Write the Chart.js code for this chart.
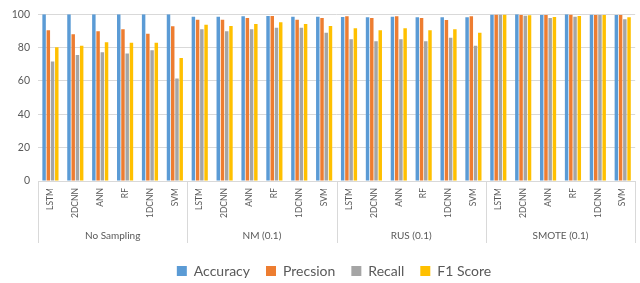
<!DOCTYPE html>
<html><head><meta charset="utf-8">
<script src="https://cdn.jsdelivr.net/npm/chart.js@4.4.1/dist/chart.umd.min.js"></script>
<style>html,body{margin:0;padding:0;background:#fff}#wrap{width:640px;height:283px}</style>
</head><body><div id="wrap"><canvas id="c" width="640" height="283"></canvas></div>
<script>
const models = ['LSTM','2DCNN','ANN','RF','1DCNN','SVM'];
const groups = ['No Sampling','NM (0.1)','RUS (0.1)','SMOTE (0.1)'];
const categories = [
  'LSTM','2DCNN','ANN','RF','1DCNN','SVM',
  'LSTM','2DCNN','ANN','RF','1DCNN','SVM',
  'LSTM','2DCNN','ANN','RF','1DCNN','SVM',
  'LSTM','2DCNN','ANN','RF','1DCNN','SVM'
];
const accuracy = [
  100, 100, 100, 100, 100, 100,
  98.6, 98.6, 98.8, 99.0, 98.6, 98.6,
  98.4, 98.2, 98.6, 98.2, 98.2, 98.2,
  99.8, 100, 99.6, 100, 99.8, 99.6
];
const precision = [
  90.4, 88.0, 89.8, 91.0, 88.4, 92.8,
  96.8, 96.8, 97.8, 99.0, 96.8, 97.8,
  98.8, 97.8, 98.8, 97.8, 96.6, 98.8,
  99.8, 99.6, 99.6, 99.8, 99.6, 99.6
];
const recall = [
  71.7, 75.6, 77.2, 76.5, 78.4, 61.5,
  91.0, 89.8, 91.0, 92.0, 92.0, 89.0,
  85.0, 83.8, 85.0, 83.8, 86.0, 81.2,
  99.8, 99.2, 97.8, 98.6, 99.6, 97.0
];
const f1score = [
  80.2, 81.2, 83.2, 83.0, 83.0, 73.8,
  93.8, 93.0, 94.2, 95.2, 94.2, 93.0,
  91.6, 90.4, 91.6, 90.4, 91.0, 89.0,
  99.8, 99.4, 98.4, 99.0, 99.6, 98.2
];
const yTicks = [0, 20, 40, 60, 80, 100];

const FONT = 'Lato, "Open Sans", sans-serif';
const TXT = '#595959';
const LINE = '#D9D9D9';

const groupFrame = {
  id: 'groupFrame',
  afterLayout(chart) {
    const lg = chart.legend;
    if (lg) { lg.top += 5; lg.bottom += 5; lg.left += 16; lg.right += 16; }
  },
  afterDraw(chart) {
    const x = chart.scales.x, x2 = chart.scales.x2;
    const ctx = chart.ctx;
    const half = (x.getPixelForValue(1) - x.getPixelForValue(0)) / 2;
    const y0 = chart.chartArea.bottom;
    const y1 = x2.bottom;
    ctx.save();
    ctx.strokeStyle = LINE;
    ctx.lineWidth = 1;
    ctx.beginPath();
    ctx.moveTo(x.left, Math.round(y0) + 0.5);
    ctx.lineTo(x.right, Math.round(y0) + 0.5);
    const per = models.length;
    for (let g = 0; g <= groups.length; g++) {
      let px;
      if (g < groups.length) px = x.getPixelForValue(g * per) - half;
      else px = x.getPixelForValue(categories.length - 1) + half;
      px = Math.round(px) + 0.5;
      ctx.moveTo(px, y0);
      ctx.lineTo(px, y1);
    }
    ctx.stroke();
    ctx.restore();
  }
};

new Chart(document.getElementById('c'), {
  type: 'bar',
  data: {
    labels: categories,
    datasets: [
      { label: 'Accuracy', data: accuracy, backgroundColor: '#5B9BD5' },
      { label: 'Precsion', data: precision, backgroundColor: '#ED7D31' },
      { label: 'Recall', data: recall, backgroundColor: '#A5A5A5' },
      { label: 'F1 Score', data: f1score, backgroundColor: '#FFC000' }
    ]
  },
  options: {
    responsive: false,
    animation: false,
    devicePixelRatio: 1,
    layout: { padding: { top: 12, right: 4, left: 0, bottom: 0 } },
    datasets: { bar: { categoryPercentage: 0.68, barPercentage: 0.82, borderWidth: 0 } },
    plugins: {
      tooltip: { enabled: false },
      legend: {
        position: 'bottom',
        labels: {
          boxWidth: 10, boxHeight: 10, padding: 16,
          color: TXT, font: { family: FONT, size: 14 }
        }
      }
    },
    scales: {
      y: {
        min: 0, max: 100,
        afterBuildTicks: s => { s.ticks = yTicks.map(v => ({ value: v })); },
        afterFit: s => { s.width = 38; },
        grid: { color: LINE, lineWidth: 1, drawTicks: false },
        border: { display: false },
        ticks: { color: TXT, font: { family: FONT, size: 10.5 }, padding: 8 }
      },
      x: {
        type: 'category',
        grid: { display: false, drawTicks: false },
        border: { display: false },
        afterFit: s => { s.height = 40; },
        ticks: {
          color: TXT, font: { family: FONT, size: 8.5 },
          minRotation: 90, maxRotation: 90, padding: 7, autoSkip: false
        }
      },
      x2: {
        type: 'category',
        position: 'bottom',
        weight: 1,
        labels: groups,
        offset: true,
        grid: { display: false, drawTicks: false },
        border: { display: false },
        afterFit: s => { s.height = 22; },
        ticks: { color: TXT, font: { family: FONT, size: 10 }, padding: 9, maxRotation: 0, autoSkip: false }
      }
    }
  },
  plugins: [groupFrame]
});
</script></body></html>
